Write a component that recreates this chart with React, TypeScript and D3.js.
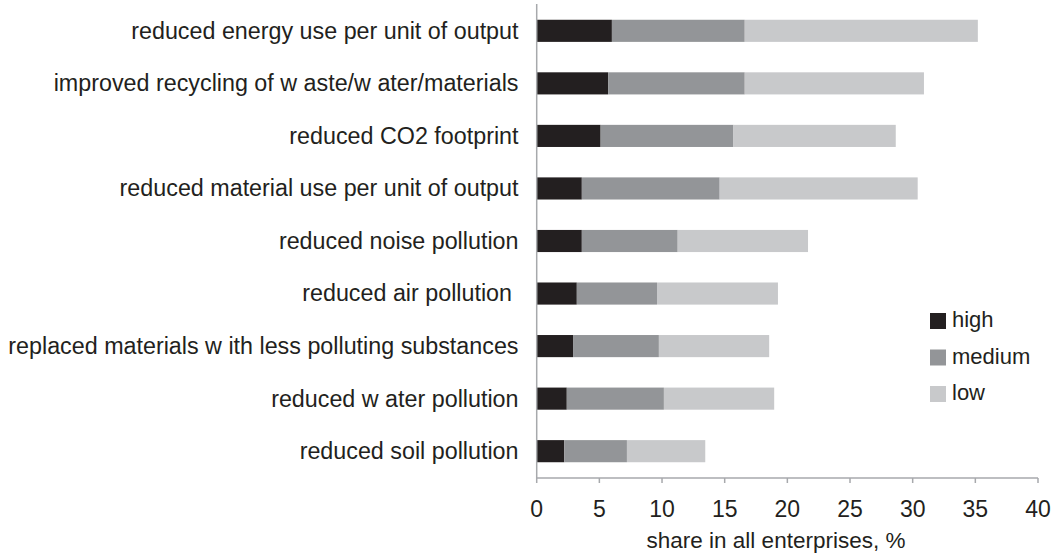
import React from "react";
import * as d3 from "d3";

const categories = [
  "reduced energy use per unit of output",
  "improved recycling of w aste/w ater/materials",
  "reduced CO2 footprint",
  "reduced material use per unit of output",
  "reduced noise pollution",
  "reduced air pollution ",
  "replaced materials w ith less polluting substances",
  "reduced w ater pollution",
  "reduced soil pollution",
];
const high = [6.0, 5.7, 5.1, 3.6, 3.6, 3.2, 2.9, 2.4, 2.2];
const medium = [10.6, 10.9, 10.6, 11.0, 7.65, 6.4, 6.85, 7.75, 5.0];
const low = [18.6, 14.3, 12.95, 15.8, 10.4, 9.65, 8.8, 8.8, 6.25];
const seriesNames = ["high", "medium", "low"];
const xTicks = [0, 5, 10, 15, 20, 25, 30, 35, 40];
const xTitle = "share in all enterprises, %";

const colors: Record<string, string> = { high: "#231f20", medium: "#939598", low: "#c8c9cb" };

export default function App() {
  const W = 1054, H = 555;
  const left = 536.7, right = 1038, top = 4, bottom = 478;
  const x = d3.scaleLinear().domain([0, 40]).range([left, right]);
  const y = d3.scaleBand<string>().domain(categories).range([top, bottom]).paddingInner(0.579).paddingOuter(0.3);
  const rows = categories.map((c, i) => ({ cat: c, high: high[i], medium: medium[i], low: low[i] }));
  const stack = d3.stack<any>().keys(seriesNames)(rows);
  const font = "'Liberation Sans', Arial, sans-serif";
  const textColor = "#231f20";
  const axisColor = "#a7a9ac";
  const legendY = [313, 349.5, 386];

  return (
    <svg width={W} height={H} style={{ position: "absolute", left: 0, top: 0, background: "#fff" }} fontFamily={font}>
      {stack.map((s) => (
        <g key={s.key} fill={colors[s.key]}>
          {s.map((d, i) => (
            <rect key={i} x={x(d[0])} width={x(d[1]) - x(d[0])} y={y(categories[i])} height={y.bandwidth()} />
          ))}
        </g>
      ))}
      <line x1={left} x2={left} y1={top} y2={bottom} stroke={axisColor} strokeWidth={1.5} />
      <line x1={left} x2={right} y1={bottom} y2={bottom} stroke={axisColor} strokeWidth={1.5} />
      {xTicks.map((t) => (
        <g key={t}>
          <line x1={x(t)} x2={x(t)} y1={bottom} y2={bottom + 5} stroke={axisColor} strokeWidth={1.5} />
          <text x={x(t)} y={516.5} textAnchor="middle" fontSize={23} fill={textColor}>{t}</text>
        </g>
      ))}
      <text x={776} y={548} textAnchor="middle" fontSize={22.5} fill={textColor}>{xTitle}</text>
      {categories.map((c) => (
        <text key={c} x={518.5} y={(y(c) as number) + y.bandwidth() / 2} dy="0.34em" textAnchor="end" fontSize={23.3} fill={textColor} style={{ whiteSpace: "pre" }}>{c}</text>
      ))}
      {seriesNames.map((s, i) => (
        <g key={s}>
          <rect x={930} y={legendY[i]} width={16} height={16} fill={colors[s]} />
          <text x={952} y={legendY[i] + 14} fontSize={22} fill={textColor}>{s}</text>
        </g>
      ))}
    </svg>
  );
}
